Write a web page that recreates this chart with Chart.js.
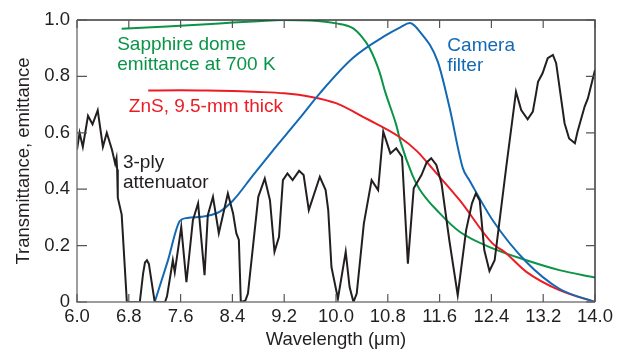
<!DOCTYPE html>
<html>
<head>
<meta charset="utf-8">
<script src="https://cdn.jsdelivr.net/npm/chart.js@4.4.0/dist/chart.umd.min.js"></script>
<style>
html, body { margin: 0; padding: 0; background: #fff; }
#chart { display: block; }
</style>
</head>
<body>
<canvas id="chart" width="619" height="351"></canvas>
<script>
// tick labels
const xTicks = [6.0, 6.8, 7.6, 8.4, 9.2, 10.0, 10.8, 11.6, 12.4, 13.2, 14.0];
const yTicks = [0, 0.2, 0.4, 0.6, 0.8, 1.0];

// 3-ply attenuator
const attenWave = [6.00, 6.04, 6.09, 6.17, 6.24, 6.32, 6.40, 6.46, 6.54, 6.59, 6.61, 6.62, 6.63, 6.69, 6.77,
  6.97, 7.02, 7.05, 7.08, 7.11, 7.16, 7.20, 7.36, 7.39, 7.43, 7.48, 7.51, 7.61, 7.69, 7.79, 7.87, 7.97,
  8.02, 8.10, 8.19, 8.33, 8.41, 8.46, 8.50, 8.53, 8.60, 8.64, 8.80, 8.90, 8.98, 9.05, 9.12, 9.18, 9.25,
  9.33, 9.43, 9.50, 9.58, 9.75, 9.84, 9.88, 9.93, 10.03, 10.15, 10.21, 10.27, 10.32, 10.43, 10.55, 10.65,
  10.73, 10.84, 10.93, 11.02, 11.11, 11.20, 11.32, 11.40, 11.47, 11.55, 11.63, 11.75, 11.88, 12.01, 12.10,
  12.16, 12.22, 12.29, 12.37, 12.45, 12.63, 12.78, 12.86, 12.96, 13.04, 13.09, 13.12, 13.19, 13.27, 13.35,
  13.40, 13.53, 13.60, 13.69, 13.73, 13.84, 13.89, 14.00];
const attenValue = [0.54, 0.60, 0.55, 0.66, 0.63, 0.68, 0.55, 0.60, 0.54, 0.49, 0.51, 0.47, 0.37, 0.31, 0.0,
  0.0, 0.10, 0.14, 0.148, 0.135, 0.06, 0.0, 0.0, 0.02, 0.077, 0.148, 0.106, 0.266, 0.07, 0.29, 0.35, 0.095,
  0.308, 0.373, 0.244, 0.385, 0.315, 0.244, 0.22, 0.0, 0.005, 0.03, 0.373, 0.438, 0.361, 0.178, 0.231, 0.432, 0.456,
  0.432, 0.465, 0.45, 0.326, 0.444, 0.397, 0.326, 0.124, 0.012, 0.178, 0.053, 0.0, 0.03, 0.278, 0.432, 0.397,
  0.604, 0.527, 0.545, 0.515, 0.136, 0.403, 0.45, 0.495, 0.51, 0.486, 0.42, 0.219, 0.024, 0.255, 0.35,
  0.385, 0.36, 0.184, 0.11, 0.148, 0.48, 0.746, 0.681, 0.648, 0.675, 0.74, 0.781, 0.811, 0.865, 0.876,
  0.847, 0.634, 0.58, 0.563, 0.604, 0.693, 0.722, 0.823];

// sapphire dome emittance
const sapphireWave = [6.69, 7.39, 8.0, 8.41, 8.8, 9.18, 9.6, 10.0, 10.26, 10.4, 10.52, 10.67, 10.76, 10.93,
  11.0, 11.18, 11.29, 11.6, 11.91, 12.42, 12.94, 13.45, 14.0];
const sapphireValue = [0.969, 0.977, 0.985, 0.991, 0.996, 1.0, 0.998, 0.988, 0.971, 0.94, 0.90, 0.817, 0.745, 0.628,
  0.566, 0.45, 0.40, 0.315, 0.249, 0.19, 0.148, 0.113, 0.087];

// ZnS, 9.5 mm
const znsWave = [7.1, 7.6, 8.0, 8.4, 8.8, 9.2, 9.6, 10.0, 10.47, 10.98, 11.25, 11.5, 11.91, 12.42, 12.6,
  12.94, 13.45, 14.0];
const znsValue = [0.75, 0.751, 0.75, 0.748, 0.745, 0.74, 0.728, 0.705, 0.65, 0.585, 0.535, 0.47, 0.361, 0.207, 0.178,
  0.107, 0.042, 0.0];

// camera filter
const cameraWave = [7.2, 7.4, 7.59, 7.7, 8.0, 8.2, 8.41, 8.72, 9.0, 9.44, 9.75, 10.26, 10.78, 11.0, 11.14,
  11.29, 11.57, 11.75, 11.96, 12.06, 12.42, 12.94, 13.45, 14.0];
const cameraValue = [0.0, 0.144, 0.288, 0.298, 0.305, 0.32, 0.36, 0.45, 0.53, 0.652, 0.74, 0.865, 0.947, 0.975, 0.989,
  0.96, 0.853, 0.693, 0.474, 0.432, 0.29, 0.142, 0.047, 0.0];

const labels = [
  { lines: ['Sapphire dome', 'emittance at 700 K'], x: 6.62, y: 0.912, color: '#0b9447' },
  { lines: ['ZnS, 9.5-mm thick'], x: 6.80, y: 0.692, color: '#ec1c24' },
  { lines: ['Camera', 'filter'], x: 11.72, y: 0.91, color: '#1369b4' },
  { lines: ['3-ply', 'attenuator'], x: 6.71, y: 0.493, color: '#231f20' }
];

const FONT = "'Liberation Sans', Arial, Helvetica, sans-serif";

function pts(xs, ys) {
  return xs.map((x, i) => ({ x: x, y: ys[i] }));
}

// inward ticks + top/right frame
const framePlugin = {
  id: 'frame',
  afterDatasetsDraw(chart) {
    const { ctx, chartArea: a, scales: { x, y } } = chart;
    ctx.save();
    ctx.lineWidth = 1.5;
    ctx.strokeStyle = '#3a3a3a';
    ctx.beginPath();
    ctx.moveTo(a.left, a.top);
    ctx.lineTo(a.right, a.top);
    ctx.lineTo(a.right, a.bottom);
    ctx.stroke();
    ctx.strokeStyle = '#7d7d7d';
    ctx.beginPath();
    ctx.moveTo(a.left, a.top);
    ctx.lineTo(a.left, a.bottom);
    ctx.lineTo(a.right, a.bottom);
    ctx.stroke();
    ctx.lineWidth = 1.2;
    ctx.strokeStyle = '#555';
    ctx.beginPath();
    xTicks.forEach(v => {
      const px = x.getPixelForValue(v);
      ctx.moveTo(px, a.bottom); ctx.lineTo(px, a.bottom - 8);
      ctx.moveTo(px, a.top); ctx.lineTo(px, a.top + 8);
    });
    yTicks.forEach(v => {
      const py = y.getPixelForValue(v);
      ctx.moveTo(a.left, py); ctx.lineTo(a.left + 10, py);
      ctx.moveTo(a.right, py); ctx.lineTo(a.right - 9, py);
    });
    ctx.stroke();

    // curve labels
    ctx.font = '19px ' + FONT;
    ctx.textAlign = 'left';
    ctx.textBaseline = 'middle';
    labels.forEach(l => {
      ctx.fillStyle = l.color;
      const px = x.getPixelForValue(l.x);
      const py = y.getPixelForValue(l.y);
      l.lines.forEach((t, i) => ctx.fillText(t, px, py + i * 20));
    });
    ctx.restore();
  }
};

const lineStyle = { fill: false, pointRadius: 0, borderWidth: 2 };

new Chart(document.getElementById('chart'), {
  type: 'line',
  data: {
    datasets: [
      Object.assign({ label: '3-ply attenuator', data: pts(attenWave, attenValue), borderColor: '#231f20', tension: 0 }, lineStyle),
      Object.assign({ label: 'Camera filter', data: pts(cameraWave, cameraValue), borderColor: '#1369b4', cubicInterpolationMode: 'monotone' }, lineStyle),
      Object.assign({ label: 'ZnS', data: pts(znsWave, znsValue), borderColor: '#ec1c24', cubicInterpolationMode: 'monotone' }, lineStyle),
      Object.assign({ label: 'Sapphire', data: pts(sapphireWave, sapphireValue), borderColor: '#0b9447', cubicInterpolationMode: 'monotone' }, lineStyle)
    ]
  },
  options: {
    responsive: false,
    animation: false,
    devicePixelRatio: 1,
    layout: { padding: { top: 20, right: 24, left: 0, bottom: 0 } },
    plugins: { legend: { display: false }, tooltip: { enabled: false } },
    scales: {
      x: {
        type: 'linear',
        min: 6, max: 14,
        afterBuildTicks: s => { s.ticks = xTicks.map(v => ({ value: v })); },
        afterFit: s => { s.height = 49; },
        grid: { display: false, drawTicks: false },
        border: { display: false },
        ticks: {
          padding: 4,
          color: '#231f20',
          font: { family: FONT, size: 18.5 },
          maxRotation: 0,
          autoSkip: false,
          callback: v => v.toFixed(1)
        },
        title: {
          display: true,
          text: 'Wavelength (\u03bcm)',
          color: '#231f20',
          font: { family: FONT, size: 18.5 },
          padding: { top: 0, bottom: 0 }
        }
      },
      y: {
        min: 0, max: 1,
        afterBuildTicks: s => { s.ticks = yTicks.map(v => ({ value: v })); },
        afterFit: s => { s.width = 77; },
        grid: { display: false, drawTicks: false },
        border: { display: false },
        ticks: {
          padding: 7,
          color: '#231f20',
          font: { family: FONT, size: 18.5 },
          autoSkip: false,
          callback: v => (v === 0 ? '0' : v.toFixed(1))
        },
        title: {
          display: true,
          text: 'Transmittance, emittance',
          color: '#231f20',
          font: { family: FONT, size: 18.5 },
          padding: { top: 13, bottom: 0 }
        }
      }
    }
  },
  plugins: [framePlugin]
});
</script>
</body>
</html>
